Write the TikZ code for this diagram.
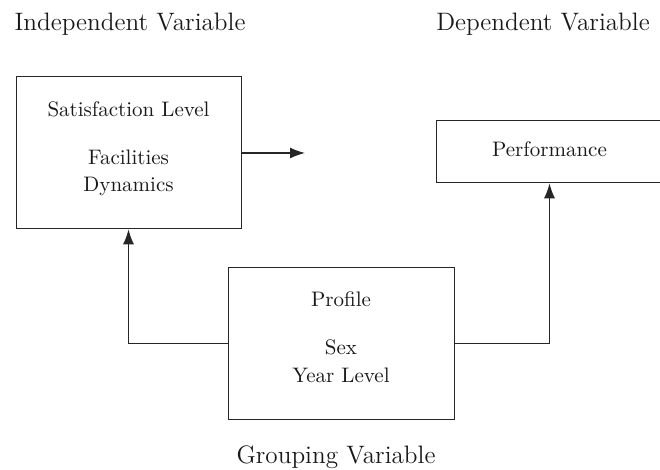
\documentclass[tikz,border=0pt]{standalone}
\usetikzlibrary{arrows.meta}
\begin{document}
\begin{tikzpicture}[x=0.5pt,y=-0.5pt,
  box/.style={draw=black!85, line width=0.65pt, rectangle, inner sep=0pt, anchor=north west},
  conn/.style={draw=black!85, line width=0.65pt, -{Latex[length=7.5pt,width=5.5pt]}},
  title/.style={anchor=base, inner sep=0pt, text=black!90, font=\fontsize{12.6}{15}\selectfont},
  lbl/.style={anchor=base, inner sep=0pt, text=black!90, font=\fontsize{10.5}{13}\selectfont}]
\useasboundingbox (0,0) rectangle (660,470);
% titles
\node[title] (tIV) at (130,31) {Independent Variable};
\node[title] (tDV) at (543,31) {Dependent Variable};
\node[title] (tGV) at (336,464) {Grouping Variable};
% boxes
\node[box, minimum width=112.5pt, minimum height=76pt] (iv) at (16,76) {};
\node[box, minimum width=115pt, minimum height=31pt] (dv) at (436,120) {};
\node[box, minimum width=113pt, minimum height=76pt] (gv) at (228,267) {};
% box texts
\node[lbl] (s1) at (128.5,117) {Satisfaction Level};
\node[lbl] (s2) at (128.5,165) {Facilities};
\node[lbl] (s3) at (128.5,192) {Dynamics};
\node[lbl] (p1) at (549.5,157) {Performance};
\node[lbl] (g1) at (341,307) {Profile};
\node[lbl] (g2) at (341,355) {Sex};
\node[lbl] (g3) at (341,383) {Year Level};
% connectors
\coordinate (ivend) at (305,153);
\coordinate (lft) at (128.5,342);
\coordinate (rgt) at (549.5,342);
\draw[conn] (iv.east |- ivend) -- (ivend);
\draw[conn] (gv.west) -- (gv.west -| lft) -- (lft |- iv.south);
\draw[conn] (gv.east) -- (gv.east -| rgt) -- (rgt |- dv.south);
\end{tikzpicture}
\end{document}
